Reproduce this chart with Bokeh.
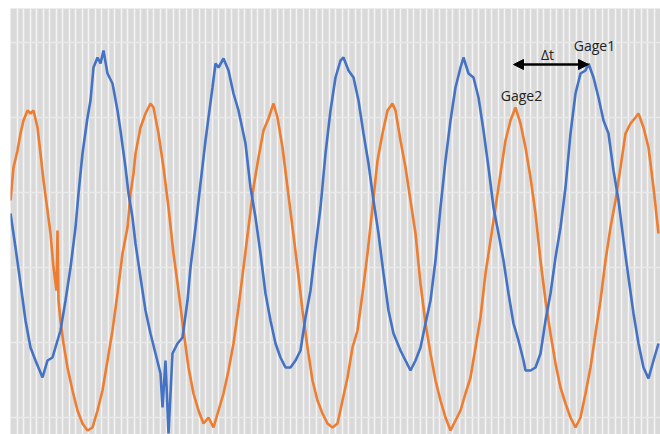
from bokeh.plotting import figure
from bokeh.models import ColumnDataSource, Range1d, SingleIntervalTicker, Arrow, NormalHead
from bokeh.core.properties import value
from bokeh.embed import file_html
from bokeh.resources import INLINE

# Gage1 (blue) readings: time (samples) and amplitude
t1 = [0, 5, 10, 15, 20, 25, 32, 37, 42, 47, 50, 55, 60, 65, 68, 72, 77, 80, 83, 87, 90, 93, 97, 102,
      107, 110, 115, 118, 122, 125, 130, 135, 140, 145, 150, 152, 155, 158, 162, 167, 172, 177, 180,
      185, 190, 195, 198, 202, 205, 208, 213, 218, 223, 228, 235, 240, 245, 250, 255, 260, 265, 270,
      275, 280, 285, 290, 295, 300, 305, 310, 315, 320, 325, 330, 333, 338, 343, 348, 353, 358, 363,
      368, 373, 378, 383, 390, 395, 400, 405, 410, 415, 420, 425, 430, 435, 440, 445, 450, 453, 458,
      463, 468, 473, 478, 483, 488, 493, 498, 503, 508, 513, 515, 520, 525, 530, 535, 540, 545, 550,
      555, 560, 565, 570, 575, 578, 583, 588, 593, 598, 603, 608, 613, 618, 623, 628, 633, 638, 643, 648]
a1 = [-21, -55, -91, -128, -155, -168, -185, -168, -165, -148, -138, -108, -75, -35, -1, 39, 75, 92,
      125, 135, 129, 142, 119, 109, 82, 62, 25, -1, -25, -51, -85, -118, -141, -161, -181, -215, -168,
      -241, -161, -151, -145, -108, -75, -35, 9, 52, 75, 105, 129, 125, 134, 122, 99, 82, 49, 5, -25,
      -61, -101, -128, -151, -165, -175, -175, -168, -158, -125, -98, -55, -15, 39, 82, 115, 132, 135,
      122, 115, 92, 59, 29, -8, -41, -81, -118, -141, -158, -168, -178, -168, -155, -131, -108, -68,
      -15, 32, 72, 105, 125, 135, 119, 115, 95, 62, 25, -15, -41, -68, -101, -131, -148, -168, -178,
      -178, -175, -161, -128, -101, -65, -35, 5, 59, 99, 119, 122, 129, 115, 95, 72, 59, 22, -8, -48,
      -85, -121, -151, -175, -186, -168, -151]

# Gage2 (orange) readings
t2 = [0, 3, 7, 10, 13, 17, 20, 23, 27, 30, 33, 37, 40, 43, 46, 47, 48, 50, 53, 57, 62, 67, 72, 77,
      82, 87, 92, 97, 102, 107, 112, 117, 120, 123, 125, 130, 135, 140, 143, 148, 153, 158, 163, 168,
      173, 178, 183, 188, 193, 198, 203, 208, 213, 218, 223, 228, 233, 238, 243, 248, 253, 258, 263,
      267, 272, 277, 282, 287, 292, 297, 302, 307, 312, 317, 322, 327, 332, 337, 342, 347, 352, 357,
      362, 367, 372, 377, 382, 385, 390, 395, 400, 405, 410, 415, 420, 425, 430, 435, 440, 445, 450,
      455, 460, 465, 470, 475, 480, 485, 490, 495, 500, 505, 510, 515, 520, 525, 530, 535, 540, 545,
      550, 555, 560, 565, 570, 575, 580, 585, 590, 595, 600, 605, 610, 615, 620, 625, 628, 633, 638,
      643, 648]
a2 = [-8, 25, 42, 59, 72, 82, 79, 82, 65, 39, 12, -18, -41, -75, -98, -38, -108, -128, -151, -175,
      -198, -218, -231, -238, -235, -218, -198, -168, -138, -101, -61, -35, -1, 19, 39, 65, 79, 89, 85,
      59, 25, -15, -61, -98, -138, -175, -201, -218, -231, -225, -235, -218, -201, -178, -151, -115,
      -75, -35, 5, 35, 62, 74, 89, 75, 45, 5, -35, -75, -118, -155, -188, -208, -221, -231, -235, -231,
      -208, -185, -155, -138, -101, -61, -15, 32, 59, 82, 89, 82, 52, 25, -8, -41, -91, -131, -161,
      -188, -208, -225, -238, -228, -218, -201, -185, -155, -125, -81, -48, -15, 19, 52, 72, 85, 69,
      45, 15, -21, -68, -108, -141, -171, -195, -211, -225, -235, -225, -201, -175, -141, -108, -68,
      -35, -8, 25, 59, 69, 75, 79, 65, 45, 5, -41]

# Annotation anchors (time, amplitude)
dt_arrow = [503, 578, 128]
labels = ["Δt", "Gage1", "Gage2"]
label_t = [537, 584, 511]
label_a = [138, 147, 97]

p = figure(width=660, height=434, output_backend="svg", toolbar_location=None,
           x_range=Range1d(0, 650), y_range=Range1d(-242, 184),
           min_border_left=10, min_border_right=0, min_border_top=8, min_border_bottom=0,
           background_fill_color="#d9d9d9", border_fill_color="white", outline_line_color=None)
p.axis.visible = False
p.xgrid.ticker = SingleIntervalTicker(interval=6.5)
p.xgrid.grid_line_color = "#f4f4f4"
p.xgrid.grid_line_width = 1.6
p.ygrid.ticker = SingleIntervalTicker(interval=75)
p.ygrid.grid_line_color = "#e9e9e9"
p.ygrid.grid_line_width = 1.5

p.line(t2, a2, line_color="#ED7D31", line_width=2.6)
p.line(t1, a1, line_color="#4472C4", line_width=2.6)

p.add_layout(Arrow(start=NormalHead(size=10, fill_color="black", line_color="black"),
                   end=NormalHead(size=10, fill_color="black", line_color="black"),
                   x_start=dt_arrow[0], x_end=dt_arrow[1], y_start=dt_arrow[2], y_end=dt_arrow[2],
                   line_color="black", line_width=2.5))

src = ColumnDataSource(dict(x=label_t, y=label_a, text=labels))
p.text(x="x", y="y", text="text", source=src, text_align="center", text_baseline="middle",
       text_font=value("Open Sans"), text_font_size="14px", text_color="#222222")

open("out.html", "w").write(file_html(p, INLINE))
